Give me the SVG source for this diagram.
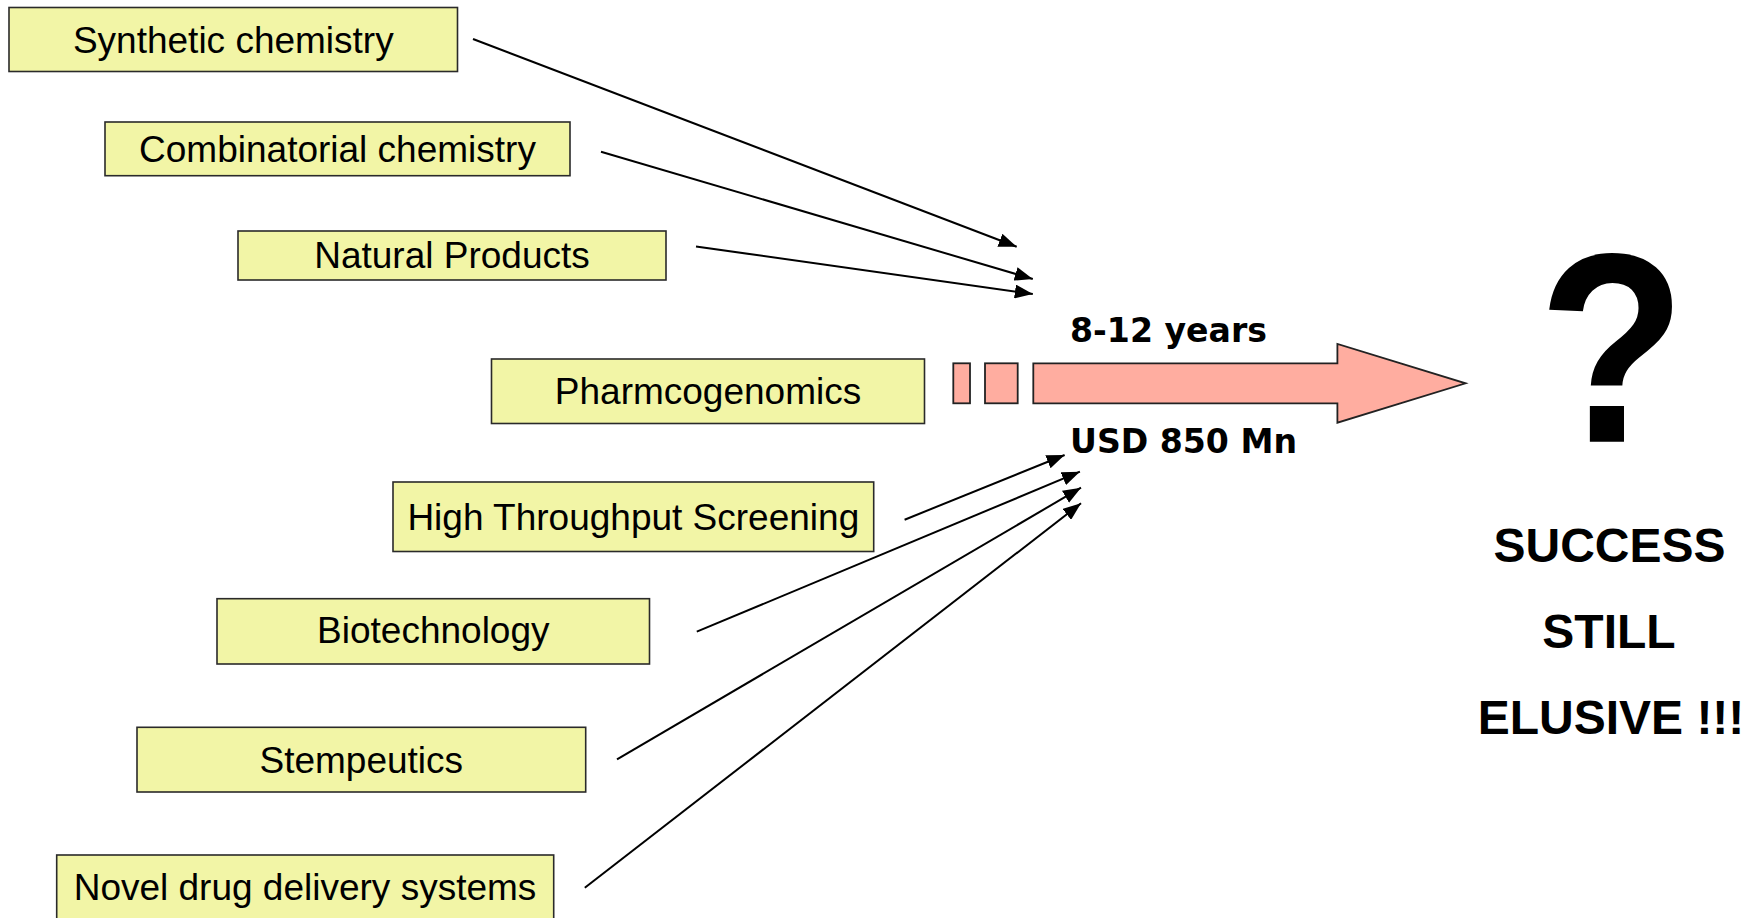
<svg xmlns="http://www.w3.org/2000/svg" width="1755" height="918" viewBox="0 0 1755 918">
<defs>
<style>
.box{fill:#F2F5A6;stroke:#2a2a2a;stroke-width:1.6}
.lbl{font-family:"Liberation Sans",Arial,sans-serif;font-size:37px;fill:#000;text-anchor:middle}
.con{stroke:#000;stroke-width:2;fill:none;marker-end:url(#ah)}
.big{fill:#FFADA0;stroke:#222;stroke-width:1.8}
.bold{font-family:"DejaVu Sans",Verdana,sans-serif;font-weight:bold;font-size:33px;fill:#000}
.res{font-family:"Liberation Sans",Arial,sans-serif;font-weight:bold;fill:#000;text-anchor:middle}
</style>
<marker id="ah" markerUnits="userSpaceOnUse" markerWidth="20" markerHeight="14" viewBox="0 0 20 14" refX="18" refY="7" orient="auto">
<path d="M0,0 L18,7 L0,14 Z" fill="#000"/>
</marker>
</defs>
<rect width="1755" height="918" fill="#fff"/>

<g id="connectors">
<line class="con" x1="473" y1="39" x2="1016.7" y2="246.7"/>
<line class="con" x1="601" y1="151.7" x2="1032.8" y2="279"/>
<line class="con" x1="696" y1="246.5" x2="1032.8" y2="294"/>
<line class="con" x1="904.6" y1="519.7" x2="1064.6" y2="455"/>
<line class="con" x1="696.8" y1="631.7" x2="1079.9" y2="471.7"/>
<line class="con" x1="617" y1="759.3" x2="1081" y2="487.7"/>
<line class="con" x1="584.8" y1="887.7" x2="1081" y2="503.3"/>
</g>

<g id="synthetic">
<rect class="box" x="9" y="7.5" width="448.5" height="64"/>
<text class="lbl" x="233.3" y="53">Synthetic chemistry</text>
</g>
<g id="combinatorial">
<rect class="box" x="105" y="122" width="465" height="53.7"/>
<text class="lbl" x="337.5" y="161.7">Combinatorial chemistry</text>
</g>
<g id="natural">
<rect class="box" x="238" y="231" width="428" height="49"/>
<text class="lbl" x="452" y="268.3">Natural Products</text>
</g>
<g id="pharmcogenomics">
<rect class="box" x="491.5" y="359" width="433" height="64.5"/>
<text class="lbl" x="708" y="404">Pharmcogenomics</text>
</g>
<g id="hts">
<rect class="box" x="393" y="482" width="480.7" height="69.5"/>
<text class="lbl" x="633.3" y="530">High Throughput Screening</text>
</g>
<g id="biotech">
<rect class="box" x="217" y="598.7" width="432.5" height="65.3"/>
<text class="lbl" x="433.3" y="643.3">Biotechnology</text>
</g>
<g id="stempeutics">
<rect class="box" x="137" y="727.3" width="448.7" height="64.7"/>
<text class="lbl" x="361.3" y="772.7">Stempeutics</text>
</g>
<g id="ndds">
<rect class="box" x="56.7" y="855" width="497" height="70"/>
<text class="lbl" x="305" y="900">Novel drug delivery systems</text>
</g>

<g id="timeline">
<rect class="big" x="953.3" y="363.3" width="16.7" height="40"/>
<rect class="big" x="985" y="363.3" width="32.7" height="40"/>
<path class="big" d="M1033.3,363.3 L1337.4,363.3 L1337.4,344 L1465.6,383.3 L1337.4,422.7 L1337.4,403.3 L1033.3,403.3 Z"/>
<text class="bold" x="1070" y="341.7" textLength="197" lengthAdjust="spacingAndGlyphs">8-12 years</text>
<text class="bold" x="1070" y="453.3" textLength="227" lengthAdjust="spacingAndGlyphs">USD 850 Mn</text>
</g>

<g id="outcome">
<text class="res" transform="translate(1612,441.7) scale(0.945,1.055)" x="0" y="0" font-size="256">?</text>
<text class="res" x="1609.5" y="561.7" font-size="48">SUCCESS</text>
<text class="res" x="1609" y="648" font-size="48">STILL</text>
<text class="res" x="1611" y="734" font-size="48">ELUSIVE !!!</text>
</g>
</svg>
